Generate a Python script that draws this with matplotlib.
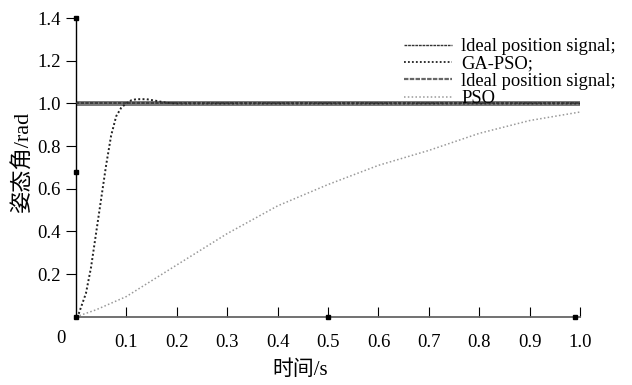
import matplotlib
matplotlib.use("Agg")
import matplotlib.pyplot as plt
from matplotlib.lines import Line2D

plt.rcParams['font.family'] = ['Liberation Serif', 'Noto Sans CJK SC']

# Data
ideal_t = [0.0, 1.0]
ideal_y = [1.0, 1.0]

ga_t = [0, 0.005, 0.02, 0.03, 0.04, 0.05, 0.06, 0.07, 0.08, 0.09, 0.1, 0.11, 0.12, 0.14, 0.16, 0.18, 0.2, 1.0]
ga_y = [0, 0.01, 0.11, 0.23, 0.39, 0.55, 0.71, 0.85, 0.94, 0.98, 1.0, 1.015, 1.02, 1.02, 1.012, 1.003, 1.0, 1.0]

pso_t = [0, 0.04, 0.1, 0.2, 0.3, 0.4, 0.5, 0.6, 0.7, 0.8, 0.9, 1.0]
pso_y = [0, 0.033, 0.095, 0.243, 0.39, 0.52, 0.62, 0.71, 0.78, 0.86, 0.92, 0.96]

xticks = [0.1, 0.2, 0.3, 0.4, 0.5, 0.6, 0.7, 0.8, 0.9, 1.0]
xticklabels = ['0.1', '0.2', '0.3', '0.4', '0.5', '0.6', '0.7', '0.8', '0.9', '1.0']
yticks = [0.2, 0.4, 0.6, 0.8, 1.0, 1.2, 1.4]
yticklabels = ['0.2', '0.4', '0.6', '0.8', '1.0', '1.2', '1.4']
legend_labels = ['ldeal position signal;', 'GA-PSO;', 'ldeal position signal;', 'PSO']

fig = plt.figure(figsize=(6.32, 3.85), dpi=100)
ax = fig.add_axes([0.120, 0.177, 0.798, 0.776])

ax.plot(ideal_t, ideal_y, color='#7a7a7a', lw=3.6, ls='-', zorder=2)
ax.plot(ideal_t, ideal_y, color='#333333', lw=1.2, ls=(0, (2, 0.8)), zorder=4)
ax.plot(ga_t, ga_y, color='#222222', lw=1.4, ls=(0, (1, 1.2)), zorder=3)
ax.plot(pso_t, pso_y, color='#999999', lw=1.1, ls=(0, (1, 1.5)), zorder=3)

# legend proxies
h1 = Line2D([], [], color='#333333', lw=1.0, ls=(0, (2, 0.6)))
h2 = Line2D([], [], color='#222222', lw=1.3, ls=(0, (1, 1.2)))
h3 = Line2D([], [], color='#666666', lw=1.6, ls=(0, (2, 0.6)))
h4 = Line2D([], [], color='#999999', lw=1.1, ls=(0, (1, 1.5)))
fig.legend([h1, h2, h3, h4], legend_labels,
           loc='upper right', bbox_to_anchor=(0.989, 0.925), frameon=False,
           fontsize=13.3, handlelength=2.6, handletextpad=0.5, labelspacing=0.02,
           borderpad=0)

ax.set_xlim(0, 1.0)
ax.set_ylim(0, 1.4)
ax.set_xticks(xticks)
ax.set_xticklabels(xticklabels, fontsize=13.5)
ax.set_yticks(yticks)
ax.set_yticklabels(yticklabels, fontsize=13.5)
ax.tick_params(axis='x', direction='in', length=7, width=0.8, pad=12)
ax.tick_params(axis='y', direction='out', length=7, width=0.8, pad=4)
ax.text(-0.03, -0.1, '0', transform=ax.transData, fontsize=13.5, ha='center', va='center')

ax.spines['top'].set_visible(False)
ax.spines['right'].set_visible(False)
ax.spines['left'].set_color('black')
ax.spines['left'].set_linewidth(1.0)
ax.spines['bottom'].set_color('#666666')
ax.spines['bottom'].set_linewidth(1.3)

# small square artifacts on axes
ax.plot([0, 0, 0, 0.5, 0.99], [0, 1.4, 0.68, 0, 0], ls='none', marker='s',
        ms=3.5, color='black', clip_on=False, zorder=6)

ax.set_xlabel('时间/s', fontsize=15)
ax.xaxis.set_label_coords(0.445, -0.145)
ax.set_ylabel('姿态角/rad', fontsize=16)
ax.yaxis.set_label_coords(-0.085, 0.52)

fig.savefig('out.png', dpi=100)
